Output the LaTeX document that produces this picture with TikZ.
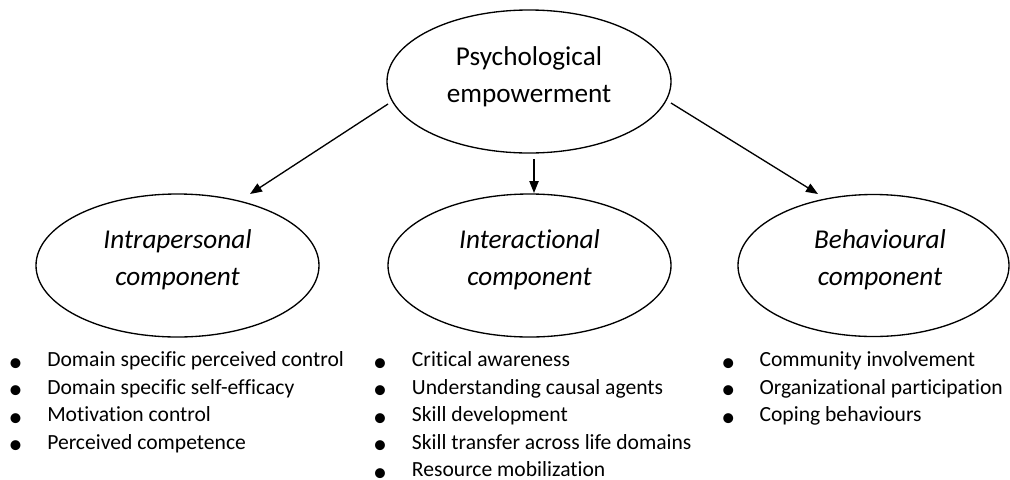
\documentclass[tikz,border=0pt]{standalone}
\usepackage{fontspec}
\setmainfont{Carlito}[Ligatures=NoCommon]
\usetikzlibrary{shapes.geometric,arrows.meta}
\begin{document}
\begin{tikzpicture}[x=0.75pt,y=-0.75pt,
  oval/.style n args={2}{draw, ellipse, inner sep=0pt, line width=1pt,
    minimum width=#1*0.75pt, minimum height=#2*0.75pt},
  ovaltext/.style={font=\fontsize{20.4}{27.75}\selectfont, align=center,
    anchor=base, inner sep=0pt},
  comptext/.style={ovaltext, font=\fontsize{20.4}{27.75}\selectfont\itshape},
  item/.style={font=\fontsize{16.2}{20.6}\selectfont, anchor=base west, inner sep=0pt},
  dot/.style={font=\fontsize{21}{22}\selectfont, anchor=base, inner sep=0pt},
  link/.style={line width=1pt, -{Triangle[length=9pt,width=7pt]}}]
\useasboundingbox (0,0) rectangle (1010,479);

% ellipses
\node[oval={284}{143}] (psy) at (529,81.5) {};
\node[oval={283}{143}] (intra) at (177.5,265.5) {};
\node[oval={283}{143}] (inter) at (529.5,265.5) {};
\node[oval={271}{142}] (behav) at (873.5,265.5) {};

% ellipse captions (anchored on the baseline of the second line)
\node[ovaltext] (psyT) at (529,102) {Psychological\\empowerment};
\node[comptext] (intraT) at (177.5,285) {Intrapersonal\\component};
\node[comptext] (interT) at (529.5,285) {Interactional\\component};
\node[comptext] (behavT) at (880,285) {Behavioural\\component};

% arrow end points
\coordinate (aLs) at (388,104);
\coordinate (aLe) at (250,194);
\coordinate (aMs) at (534,159);
\coordinate (aMe) at (534,193);
\coordinate (aRs) at (671,103);
\coordinate (aRe) at (818,194);
\draw[link] (aLs) -- (aLe);
\draw[link] (aMs) -- (aMe);
\draw[link] (aRs) -- (aRe);

% intrapersonal list
\foreach \t [count=\i] in {Domain specific perceived control,
    Domain specific self-efficacy, Motivation control, Perceived competence}{
  \node[dot] (b1\i) at (15.5,371.2+27.5*\i-27.5) {•};
  \node[item] (l1\i) at (47,366.7+27.5*\i-27.5) {\t};
}
% interactional list
\foreach \t [count=\i] in {Critical awareness, Understanding causal agents,
    Skill development, Skill transfer across life domains, Resource mobilization}{
  \node[dot] (b2\i) at (380,371.2+27.5*\i-27.5) {•};
  \node[item] (l2\i) at (411.7,366.7+27.5*\i-27.5) {\t};
}
% behavioural list
\foreach \t [count=\i] in {Community involvement, Organizational participation,
    Coping behaviours}{
  \node[dot] (b3\i) at (728.3,371.2+27.5*\i-27.5) {•};
  \node[item] (l3\i) at (759.3,366.7+27.5*\i-27.5) {\t};
}
\end{tikzpicture}
\end{document}
